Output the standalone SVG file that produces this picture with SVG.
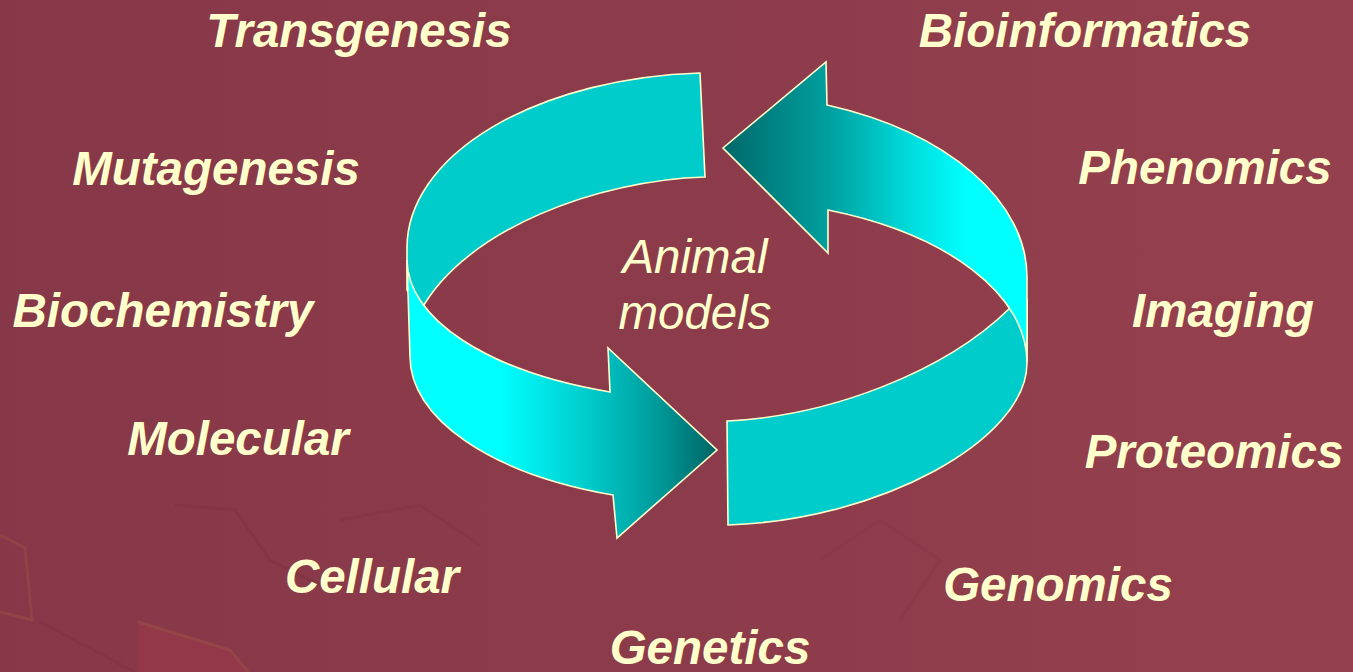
<svg xmlns="http://www.w3.org/2000/svg" width="1353" height="672" viewBox="0 0 1353 672">
  <defs>
    <linearGradient id="bg" x1="0" y1="0" x2="1353" y2="0" gradientUnits="userSpaceOnUse">
      <stop offset="0" stop-color="#873848"/>
      <stop offset="0.5" stop-color="#8C3B4A"/>
      <stop offset="1" stop-color="#95404F"/>
    </linearGradient>
    <linearGradient id="gradLeft" x1="407" y1="0" x2="717" y2="0" gradientUnits="userSpaceOnUse">
      <stop offset="0" stop-color="#00FFFF"/>
      <stop offset="0.3" stop-color="#00FFFF"/>
      <stop offset="0.6" stop-color="#00C8C8"/>
      <stop offset="0.8" stop-color="#009C9C"/>
      <stop offset="1" stop-color="#006464"/>
    </linearGradient>
    <linearGradient id="gradRight" x1="723" y1="0" x2="1027" y2="0" gradientUnits="userSpaceOnUse">
      <stop offset="0" stop-color="#006868"/>
      <stop offset="0.35" stop-color="#00A0A0"/>
      <stop offset="0.6" stop-color="#00D8D8"/>
      <stop offset="0.8" stop-color="#00FFFF"/>
      <stop offset="1" stop-color="#00FFFF"/>
    </linearGradient>
    <style>
      .band { fill: #00CCCC; stroke: #FFFFCC; stroke-width: 1.6; stroke-linejoin: miter; }
      .front { stroke: #FFFFCC; stroke-width: 1.6; stroke-linejoin: miter; }
      .lbl { font-family: "Liberation Sans", Arial, sans-serif; font-size: 47.5px; font-weight: bold; font-style: italic; fill: #FFFFCC; text-anchor: middle; }
      .center { font-family: "Liberation Sans", Arial, sans-serif; font-size: 47.5px; font-style: italic; fill: #FFFFCC; text-anchor: middle; }
      .tex { fill: none; stroke-width: 3; }
    </style>
  </defs>

  <g id="background">
    <rect x="0" y="0" width="1353" height="672" fill="url(#bg)"/>
    <g opacity="0.22">
      <path class="tex" d="M0,535 L25,548 L32,620 L0,612" stroke="#B8683E"/>
      <path class="tex" d="M40,622 L135,672" stroke="#6E2A38"/>
      <path d="M138,622 L230,650 L248,672 L138,672 Z" fill="#B8354A"/>
      <path class="tex" d="M138,622 L230,650 L248,672" stroke="#C0703E"/>
      <path class="tex" d="M175,505 L235,510 L270,560 L320,585" stroke="#6E2A38"/>
      <path class="tex" d="M340,520 L420,505 L480,545" stroke="#7A3040"/>
      <path class="tex" d="M820,560 L880,520 L940,560 L900,620" stroke="#7A3040"/>
    </g>
  </g>

  <g id="connectors">
    <g id="arrow-left">
      <path class="band" d="M700,73 A310,175 0 0 0 407,247 L407,290 L421,310 C466,228 600,180 705,177 Z"/>
      <path class="front" fill="url(#gradLeft)" d="M407,260 A310,141 0 0 0 610,392 L608,348 L717,450 L617,538 L613,495 A307,147 0 0 1 410,357 Z"/>
    </g>
    <g id="arrow-right">
      <path class="band" d="M727,421 C830,416 945,372 1010,308 L1020,300 L1027,300 L1027,363 C1027,440 880,520 728,525 Z"/>
      <path class="front" fill="url(#gradRight)" d="M827,105 A310,184 0 0 1 1027,277 L1027,362 A310,163 0 0 0 828,210 L828,253 L723,148 L826,62 Z"/>
    </g>
  </g>

  <g id="node-center">
    <text class="center" x="695" y="273">Animal</text>
    <text class="center" x="695" y="329">models</text>
  </g>

  <g id="node-transgenesis"><text class="lbl" x="359" y="47">Transgenesis</text></g>
  <g id="node-mutagenesis"><text class="lbl" x="216" y="185">Mutagenesis</text></g>
  <g id="node-biochemistry"><text class="lbl" x="163" y="327">Biochemistry</text></g>
  <g id="node-molecular"><text class="lbl" x="238" y="455">Molecular</text></g>
  <g id="node-cellular"><text class="lbl" x="372" y="593">Cellular</text></g>
  <g id="node-genetics"><text class="lbl" x="710" y="664">Genetics</text></g>
  <g id="node-genomics"><text class="lbl" x="1058" y="601">Genomics</text></g>
  <g id="node-proteomics"><text class="lbl" x="1214" y="468">Proteomics</text></g>
  <g id="node-imaging"><text class="lbl" x="1223" y="327">Imaging</text></g>
  <g id="node-phenomics"><text class="lbl" x="1205" y="184">Phenomics</text></g>
  <g id="node-bioinformatics"><text class="lbl" x="1085" y="47">Bioinformatics</text></g>
</svg>
